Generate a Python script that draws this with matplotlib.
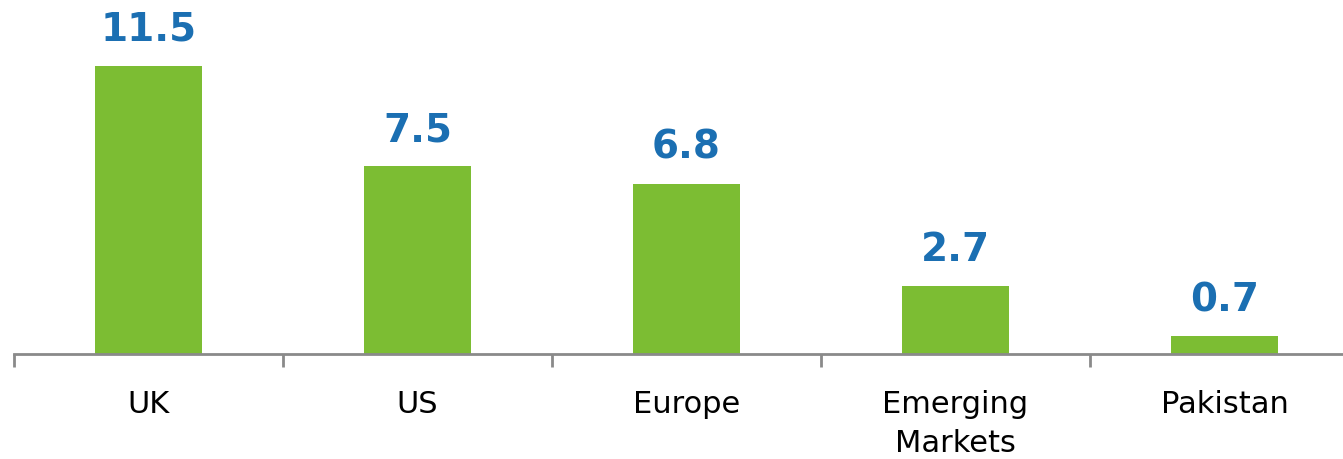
import matplotlib.pyplot as plt

categories = ["UK", "US", "Europe", "Emerging\nMarkets", "Pakistan"]
values = [11.5, 7.5, 6.8, 2.7, 0.7]

bar_color = "#7cbd33"
label_color = "#1b6fb2"
axis_color = "#8a8a8a"

fig = plt.figure(figsize=(13.43, 4.6), dpi=100)
# axes: left edge at x=14px, one category = 269px, baseline at y=355px
left = 14 / 1343
width = 5 * 269 / 1343
bottom = (460 - 355) / 460
height = 355 / 460
ax = fig.add_axes([left, bottom, width, height])

x = range(len(categories))
ax.bar(x, values, width=0.40, color=bar_color, zorder=2)

for xi, v in zip(x, values):
    ax.annotate(f"{v:.1f}", (xi, v), xytext=(0, 13), textcoords="offset points",
                ha="center", va="bottom", fontsize=28, fontweight="bold",
                color=label_color)

ax.set_xlim(-0.5, len(categories) - 0.5)
ax.set_ylim(0, 355 / 25.04)

for s in ["top", "right", "left"]:
    ax.spines[s].set_visible(False)
ax.spines["bottom"].set_color(axis_color)
ax.spines["bottom"].set_linewidth(2)

ax.set_yticks([])
ax.set_xticks([i - 0.5 for i in range(len(categories) + 1)])
ax.set_xticklabels([])
ax.set_xticks(list(x), minor=True)
ax.set_xticklabels(categories, minor=True, fontsize=22, linespacing=1.45)
ax.tick_params(axis="x", which="major", length=9, width=2, color=axis_color)
ax.tick_params(axis="x", which="minor", length=0, pad=25, labelcolor="black")

fig.savefig("out.png", dpi=100)
